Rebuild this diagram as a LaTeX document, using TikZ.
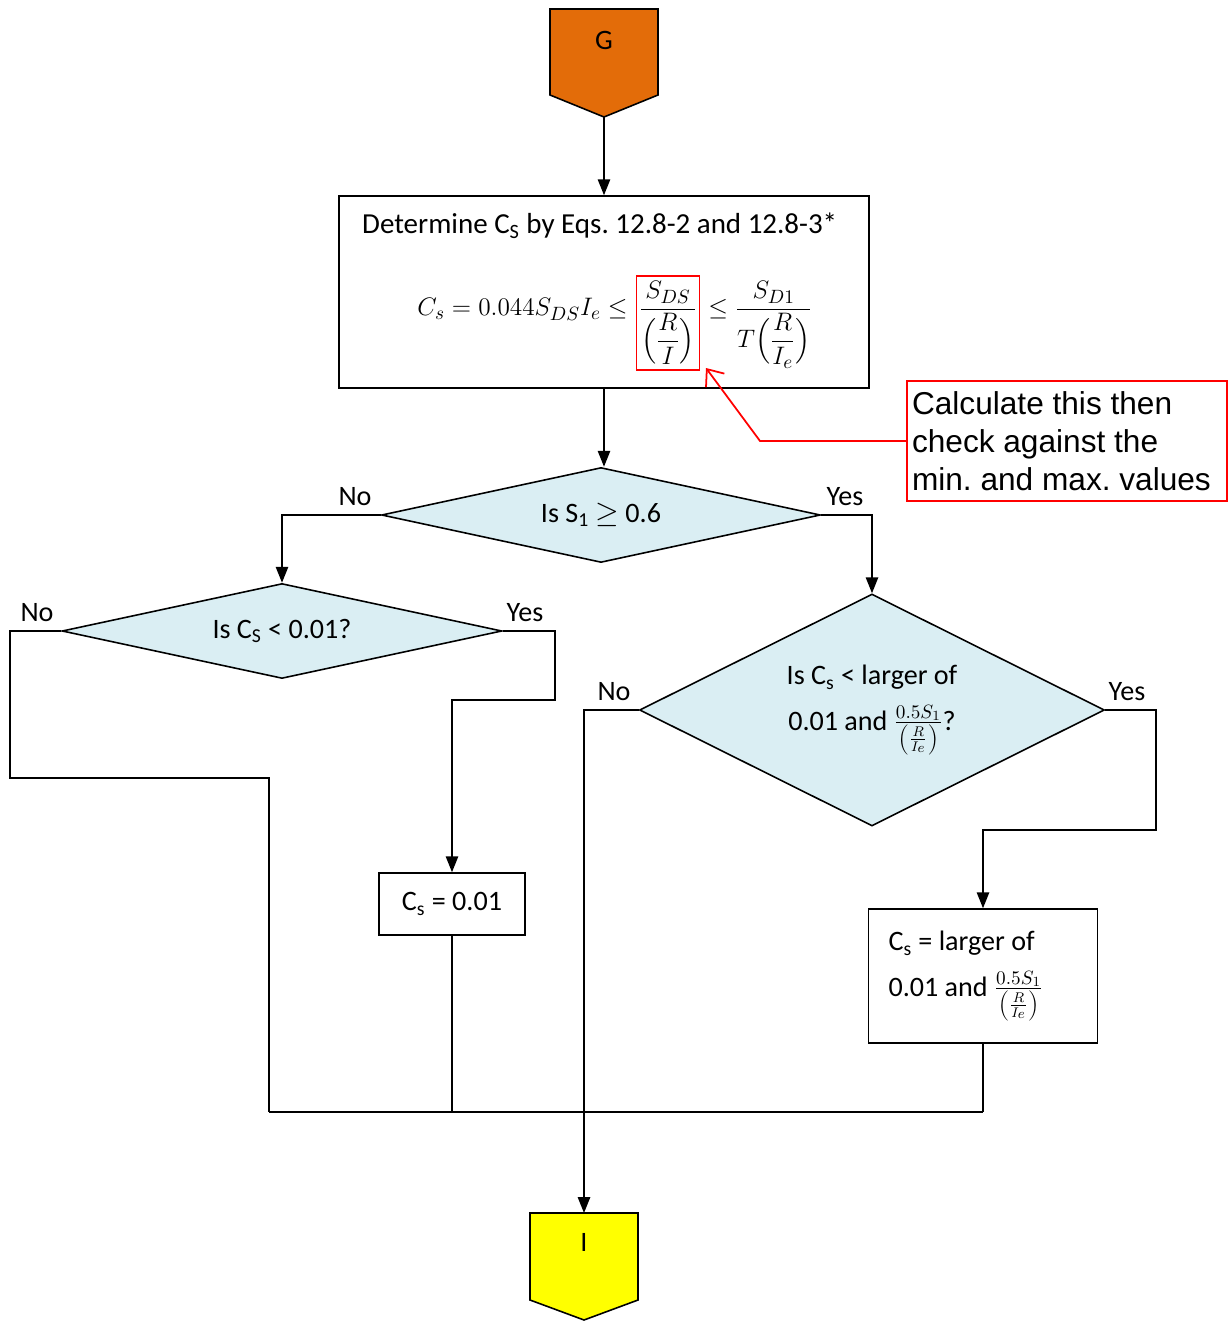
\documentclass[tikz,border=0pt]{standalone}
\usepackage{amsmath}
\usepackage{fontspec}
\setmainfont{Carlito}
\newfontfamily\calloutfont{Liberation Sans}
\usepackage{tikz}
\usetikzlibrary{positioning,shapes,arrows.meta,calc}

\definecolor{gorange}{HTML}{E36C09}
\definecolor{iyellow}{HTML}{FFFF00}
\definecolor{dfill}{HTML}{DAEEF3}

\tikzset{
  flowline/.style={line width=0.9pt},
  flowarrow/.style={flowline, -{Triangle[length=9pt,width=7pt]}},
  procbox/.style={draw, flowline, inner sep=0pt},
  decision/.style={diamond, draw, flowline, fill=dfill, inner sep=0pt, align=center},
  eqpart/.style={font=\fontsize{15.5}{18}\selectfont},
  hlbox/.style={eqpart, draw=red, line width=1pt, inner xsep=1.5pt, inner ysep=3pt},
  callout/.style={draw=red, line width=1pt, inner xsep=0.1cm, inner ysep=0pt,
    text width=6.2cm, minimum height=2.4cm, align=flush left,
    font=\calloutfont\fontsize{18}{21.5}\selectfont\frenchspacing},
  redarrow/.style={draw=red, line width=1pt, -{Straight Barb[length=8pt,width=13pt]}},
}

\begin{document}
\begin{tikzpicture}[x=0.02cm, y=-0.02cm, font=\fontsize{16}{19}\selectfont]
    \useasboundingbox (0,0) rectangle (1228,1321);

    % off-page connectors
    \draw[flowline, fill=gorange] (550,9) -- (658,9) -- (658,95) -- (604,117) -- (550,95) -- cycle;
    \node (G) at (604,40) {G};
    \coordinate (Gtip) at (604,117);

    \draw[flowline, fill=iyellow] (530,1213) -- (638,1213) -- (638,1300) -- (584,1320) -- (530,1300) -- cycle;
    \node (I) at (584,1242) {I};
    \coordinate (Itop) at (584,1213);

    % calculation box
    \node[procbox, minimum width=10.6cm, minimum height=3.84cm] (calc) at (604,292) {};
    \node[anchor=west] (caltitle) at (356,226) {\fontsize{16.5}{19}\selectfont Determine C\textsubscript{S} by Eqs.~12.8-2 and 12.8-3*};
    \node[hlbox] (frac) at (668,323) {$\displaystyle\frac{S_{DS}}{\Bigl(\dfrac{R}{I}\Bigr)}$};
    \node[eqpart, base left=1pt of frac] (eqleft) {$C_s = 0.044 S_{DS} I_e \leq$};
    \node[eqpart, base right=1pt of frac] (eqright) {$\leq \dfrac{S_{D1}}{T\Bigl(\dfrac{R}{I_e}\Bigr)}$};

    % note
    \node[callout] (note) at (1067,441) {Calculate this then\\check against the\\min. and max. values};
    \coordinate (hltip) at (706,368);
    \draw[redarrow] (note.west) -- (760,441) -- (hltip);

    % decisions
    \node[decision, aspect=4.6, minimum width=8.78cm, minimum height=1.9cm] (d1) at (601,515)
        {Is S\textsubscript{1} \ensuremath{\geq} 0.6};
    \node[decision, aspect=4.6, minimum width=8.8cm, minimum height=1.9cm] (d2) at (282,631)
        {Is C\textsubscript{S} < 0.01?};
    \node[decision, aspect=2, minimum width=9.3cm, minimum height=4.64cm] (d3) at (872,710)
        {Is C\textsubscript{s} < larger of\\[7pt]0.01 and $\frac{0.5S_1}{\left(\frac{R}{I_e}\right)}$?};

    % results
    \node[procbox, minimum width=2.92cm, minimum height=1.24cm] (cs1) at (452,904) {C\textsubscript{s} = 0.01};
    \node[procbox, minimum width=4.58cm, minimum height=2.68cm, inner xsep=0.4cm, text width=3.78cm, align=flush left]
        (cs2) at (983,976) {C\textsubscript{s} = larger of\\[7pt]0.01 and $\frac{0.5S_1}{\left(\frac{R}{I_e}\right)}$};

    % branch labels
    \node (d1no) at (355,497) {No};
    \node (d1yes) at (845,497) {Yes};
    \node (d2no) at (37,613) {No};
    \node (d2yes) at (525,613) {Yes};
    \node (d3no) at (614,692) {No};
    \node (d3yes) at (1127,692) {Yes};

    % connectors
    \coordinate (mergeL) at (269,1112);
    \coordinate (mergeR) at (cs2.south |- mergeL);
    \draw[flowarrow] (Gtip) -- (calc.north);
    \draw[flowarrow] (calc.south) -- (calc.south |- d1.north);
    \draw[flowarrow] (d1.west) -| (d2.north);
    \draw[flowarrow] (d1.east) -| (d3.north);
    \draw[flowline] (d2.west) -- (10,631) -- (10,778) -| (mergeL);
    \draw[flowarrow] (d2.east) -- (555,631) -- (555,700) -| (cs1.north);
    \draw[flowline] (cs1.south) -- (cs1.south |- mergeL);
    \draw[flowarrow] (d3.west) -| (Itop);
    \draw[flowarrow] (d3.east) -- (1156,710) -- (1156,830) -| (cs2.north);
    \draw[flowline] (cs2.south) -- (mergeR);
    \draw[flowline] (mergeL) -- (mergeR);
\end{tikzpicture}
\end{document}
